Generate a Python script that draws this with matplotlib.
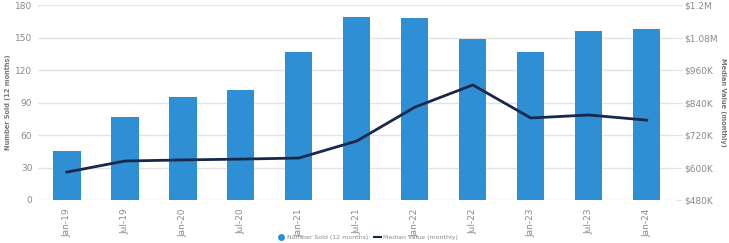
import numpy as np
import matplotlib.pyplot as plt
from matplotlib.lines import Line2D

# data
periods = ["Jan-19", "Jul-19", "Jan-20", "Jul-20", "Jan-21", "Jul-21",
           "Jan-22", "Jul-22", "Jan-23", "Jul-23", "Jan-24"]
number_sold = [45, 77, 95, 102, 137, 169, 168, 149, 137, 156, 158]
median_value = [583, 624, 628, 631, 635, 698, 823, 905, 783, 794, 775]  # $K

left_ticks = [0, 30, 60, 90, 120, 150, 180]
right_ticks = [480, 600, 720, 840, 960, 1080, 1200]
right_labels = ["$480K", "$600K", "$720K", "$840K", "$960K", "$1.08M", "$1.2M"]

bar_col = "#2f8fd4"
line_col = "#17294b"
txt_col = "#8a8a8a"

fig = plt.figure(figsize=(7.29, 2.43), dpi=100)
ax = fig.add_axes([0.052, 0.177, 0.875, 0.802])
x = np.arange(len(periods))

ax.bar(x, number_sold, width=0.47, color=bar_col, zorder=2)
ax.set_ylim(0, 180)
ax.set_yticks(left_ticks)
ax.set_xlim(-0.5, len(periods) - 0.5)
ax.set_xticks(x)
ax.set_xticklabels(periods, rotation=90)
ax.grid(axis="y", color="#e3e3e3", linewidth=1, zorder=0)
ax.tick_params(axis="both", length=0, labelsize=6.5, colors=txt_col, pad=4)
ax.tick_params(axis="x", pad=6)
for s in ax.spines.values():
    s.set_visible(False)
ax.set_ylabel("Number Sold (12 months)", fontsize=4.8, color="#777777",
              fontweight="bold", labelpad=3)

ax2 = ax.twinx()
ax2.plot(x, median_value, color=line_col, linewidth=2, zorder=3)
ax2.set_ylim(480, 1200)
ax2.set_yticks(right_ticks)
ax2.set_yticklabels(right_labels)
ax2.tick_params(axis="y", length=4, color="#e3e3e3", labelsize=6.5, colors=txt_col, pad=2)
for s in ax2.spines.values():
    s.set_visible(False)
ax2.set_ylabel("Median Value (monthly)", fontsize=4.8, color="#777777",
               fontweight="bold", rotation=-90, labelpad=6)

# legend sits at the very bottom, as in the reference
handles = [Line2D([], [], marker="o", linestyle="none", color=bar_col, markersize=4),
           Line2D([], [], color=line_col, linewidth=1.5)]
fig.legend(handles, ["Number Sold (12 months)", "Median Value (monthly)"],
           loc="upper center", bbox_to_anchor=(0.505, 0.05),
           ncol=2, frameon=False, fontsize=4.5, labelcolor=txt_col,
           handlelength=1.0, handletextpad=0.4, columnspacing=1.0, borderpad=0.1)

fig.savefig("out.png", dpi=100)
